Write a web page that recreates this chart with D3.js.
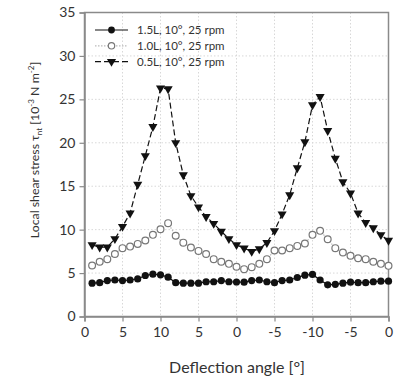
<!DOCTYPE html>
<html><head><meta charset="utf-8">
<script src="https://cdn.jsdelivr.net/npm/d3@7"></script>
<style>body{margin:0;background:#fff}svg{display:block;font-family:Lato,"Open Sans",sans-serif}</style>
</head><body><svg id="c" width="404" height="377"></svg>
<script>
const positions = d3.range(1, 41);
const tickPositions = [0,5,10,15,20,25,30,35,40];
const tickLabels = ["0","5","10","5","0","-5","-10","-5","0"];
const yTicks = [0,5,10,15,20,25,30,35];
const seriesNames = ["1.5L, 10°, 25 rpm","1.0L, 10°, 25 rpm","0.5L, 10°, 25 rpm"];
const s15 = [3.84,3.9,4.14,4.2,4.14,4.2,4.33,4.72,4.87,4.8,4.53,3.9,3.84,3.84,3.84,4.0,4.0,4.14,4.0,3.97,
             3.95,4.14,4.2,4.0,3.9,4.14,4.2,4.49,4.76,4.84,4.2,3.65,3.7,3.84,3.95,3.9,3.9,4.0,4.07,4.07];
const s10 = [5.87,6.3,6.6,7.2,7.87,8.05,8.36,8.75,9.4,10.05,10.75,9.3,8.5,7.95,7.55,7.2,6.6,6.3,6.06,5.72,
             5.45,5.68,6.06,6.6,7.6,7.6,7.87,8.13,8.4,9.4,9.86,8.9,7.87,7.36,7.0,6.7,6.6,6.3,6.06,5.83];
const s05 = [8.25,7.98,7.98,8.94,10.35,11.9,15.2,18.5,21.85,26.3,26.2,20.0,16.3,13.9,12.6,11.5,10.7,9.8,8.94,8.25,
             7.86,7.48,7.78,8.5,9.86,11.8,14.0,17.1,20.1,24.35,25.3,21.4,18.2,15.5,14.2,11.9,10.8,10.2,9.4,8.75];

const svg = d3.select("#c");
const L = 84.5, R = 388.5, T = 12.5, B = 316.5;
const x = d3.scaleLinear().domain([0,40]).range([L,R]);
const y = d3.scaleLinear().domain([0,35]).range([B,T]);
const axisCol = "#8a8a8a";
const FONT = "Lato,'Open Sans',sans-serif";

// grid
const g = svg.append("g");
g.selectAll("line.hg").data(yTicks.filter(v=>v>0&&v<35)).enter().append("line")
  .attr("x1",L).attr("x2",R).attr("y1",d=>y(d)).attr("y2",d=>y(d))
  .attr("stroke","#d8d8d8").attr("stroke-width",1).attr("stroke-dasharray","1.5,2");
g.selectAll("line.vg").data(tickPositions.filter(v=>v>0&&v<40)).enter().append("line")
  .attr("y1",T).attr("y2",B).attr("x1",d=>x(d)).attr("x2",d=>x(d))
  .attr("stroke","#d8d8d8").attr("stroke-width",1).attr("stroke-dasharray","1.5,2");

// frame
svg.append("rect").attr("x",L).attr("y",T).attr("width",R-L).attr("height",B-T)
  .attr("fill","none").attr("stroke",axisCol).attr("stroke-width",1.5);

// axes
const xa = svg.append("g").attr("transform",`translate(0,${B})`)
  .call(d3.axisBottom(x).tickValues(tickPositions).tickFormat((d,i)=>tickLabels[i]).tickSize(5).tickPadding(6));
const ya = svg.append("g").attr("transform",`translate(${L},0)`)
  .call(d3.axisLeft(y).tickValues(yTicks).tickSize(5).tickPadding(4));
[xa,ya].forEach(a=>{
  a.select(".domain").attr("stroke",axisCol).attr("stroke-width",1.5);
  a.selectAll(".tick line").attr("stroke",axisCol).attr("stroke-width",1.2);
  a.selectAll(".tick text").attr("fill","#333").style("font-size","14px").style("font-family",FONT);
});

// labels
svg.append("text").attr("x",237).attr("y",373).attr("text-anchor","middle")
  .attr("fill","#333").style("font-size","16px").text("Deflection angle [°]");
const yl = svg.append("text").attr("transform","translate(38.5,150) rotate(-90)").attr("text-anchor","middle")
  .attr("fill","#333").style("font-size","12.3px");
yl.append("tspan").text("Local shear stress τ");
yl.append("tspan").attr("dy",3).style("font-size","8px").text("nt");
yl.append("tspan").attr("dy",-3).text(" [10");
yl.append("tspan").attr("dy",-5).style("font-size","8px").text("-3");
yl.append("tspan").attr("dy",5).text(" N m");
yl.append("tspan").attr("dy",-5).style("font-size","8px").text("-2");
yl.append("tspan").attr("dy",5).text("]");

// lines
const line = d3.line().x((d,i)=>x(positions[i])).y(d=>y(d));
svg.append("path").datum(s15).attr("d",line).attr("fill","none").attr("stroke","#111").attr("stroke-width",1.2);
svg.append("path").datum(s10).attr("d",line).attr("fill","none").attr("stroke","#bbb").attr("stroke-width",1.2).attr("stroke-dasharray","1.5,1.5");
svg.append("path").datum(s05).attr("d",line).attr("fill","none").attr("stroke","#111").attr("stroke-width",1.2).attr("stroke-dasharray","6,3");

const tri = d3.symbol().type(d3.symbolTriangle).size(36);
function drawMarkers(data, kind){
  const sel = svg.append("g").selectAll("path").data(data).enter();
  const px = (d,i)=>x(positions[i]);
  if(kind==="filled"){
    sel.append("circle").attr("cx",px).attr("cy",d=>y(d)).attr("r",3.6).attr("fill","#111");
  } else if(kind==="open"){
    sel.append("circle").attr("cx",px).attr("cy",d=>y(d)).attr("r",3.4).attr("fill","#fff").attr("stroke","#777").attr("stroke-width",1.2);
  } else {
    sel.append("path").attr("d",tri).attr("fill","#111")
      .attr("transform",(d,i)=>`translate(${px(d,i)},${y(d)}) rotate(180)`);
  }
}
drawMarkers(s15,"filled");
drawMarkers(s10,"open");
drawMarkers(s05,"tri");

// legend
const leg = svg.append("g");
const rows = [{k:"filled",dash:null,col:"#111"},{k:"open",dash:"1.5,1.5",col:"#bbb"},{k:"tri",dash:"6,3",col:"#111"}];
rows.forEach((r,i)=>{
  const yy = 30 + i*15.8;
  leg.append("line").attr("x1",95).attr("x2",128).attr("y1",yy).attr("y2",yy)
    .attr("stroke",r.col).attr("stroke-width",1.2).attr("stroke-dasharray",r.dash);
  if(r.k==="filled") leg.append("circle").attr("cx",111.5).attr("cy",yy).attr("r",3.4).attr("fill","#111");
  else if(r.k==="open") leg.append("circle").attr("cx",111.5).attr("cy",yy).attr("r",3.2).attr("fill","#fff").attr("stroke","#777").attr("stroke-width",1.2);
  else leg.append("path").attr("d",tri).attr("fill","#111").attr("transform",`translate(111.5,${yy}) rotate(180)`);
  leg.append("text").attr("x",137).attr("y",yy+4).attr("fill","#333").style("font-size","11.5px").text(seriesNames[i]);
});
</script></body></html>
